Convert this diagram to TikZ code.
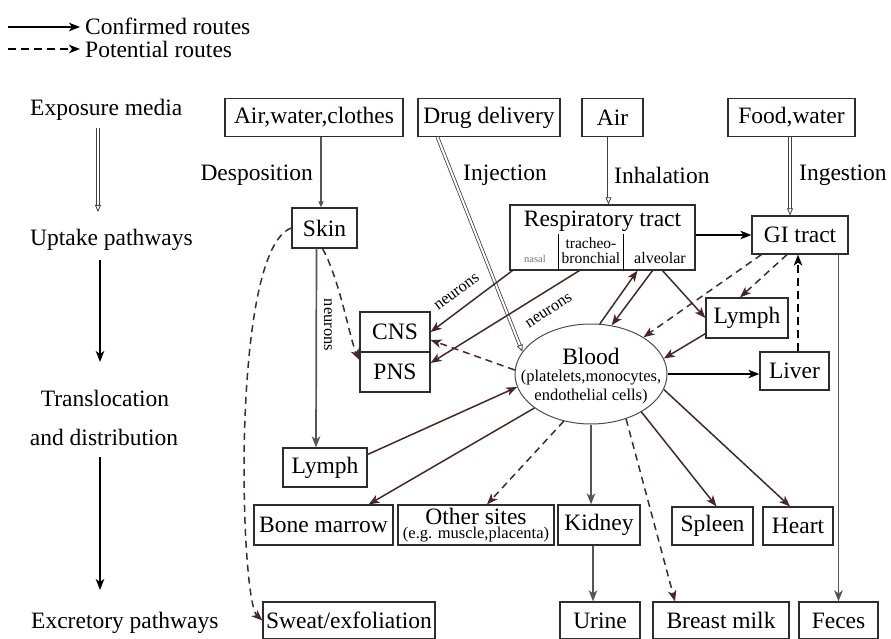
\documentclass[tikz,border=0pt]{standalone}
\usepackage{fontspec}
\setmainfont{Liberation Serif}
\usetikzlibrary{arrows.meta,calc,shapes.geometric}
\definecolor{mar}{RGB}{72,38,44}
\definecolor{lgray}{RGB}{85,85,85}
\definecolor{bord}{RGB}{45,45,45}
\begin{document}
\begin{tikzpicture}[x=1pt,y=-1pt,
  every node/.style={font=\fontsize{23.5}{26}\selectfont, inner sep=0pt},
  box/.style={draw=bord, line width=1.2pt, rectangle},
  smalltxt/.style={font=\fontsize{16.5}{18}\selectfont},
  arrtip/.style={-{Stealth[length=11pt,width=8.5pt,inset=3pt]}},
  conf/.style={draw=mar, line width=1.5pt, arrtip},
  confk/.style={draw=black, line width=1.6pt, arrtip},
  pot/.style={draw=mar, line width=1.5pt, dash pattern=on 7pt off 5pt, arrtip},
  potk/.style={draw=black, line width=1.8pt, dash pattern=on 8pt off 5pt, arrtip},
  grayarr/.style={draw=lgray, line width=1.7pt, arrtip},
  hollowarr/.style={draw=black!75, double=white, double distance=2pt, line width=0.8pt, -{Triangle[open,length=7pt,width=6pt]}},
]
\useasboundingbox (0,0) rectangle (891,639);

% legend
\coordinate (lg1a) at (8,27);
\coordinate (lg1b) at (80,27);
\coordinate (lg2a) at (8,49);
\coordinate (lg2b) at (80,49);
\draw[confk] (lg1a) -- (lg1b);
\draw[potk] (lg2a) -- (lg2b);
\node[anchor=west] (legC) at (85,26) {Confirmed routes};
\node[anchor=west] (legP) at (85,49) {Potential routes};

% left column
\node[anchor=west] (cExp) at (30,110) {Exposure media};
\node[anchor=west] (cUpt) at (30,240) {Uptake pathways};
\node (cTr1) at (105,398) {Translocation};
\node (cTr2) at (104,437) {and distribution};
\node[anchor=west] (cExc) at (31,623) {Excretory pathways};
\coordinate (la1) at (98,128);
\coordinate (la2) at (98,212);
\coordinate (lb1) at (100,260);
\coordinate (lb2) at (100,362);
\coordinate (lc1) at (100,457);
\coordinate (lc2) at (100,590);
\draw[hollowarr] (la1) -- (la2);
\draw[confk] (lb1) -- (lb2);
\draw[confk] (lc1) -- (lc2);

% exposure boxes
\node[box, minimum width=178pt, minimum height=38pt] (awc) at (314,117.5) {Air,water,clothes};
\node[box, minimum width=142pt, minimum height=38pt] (drug) at (489,117.5) {Drug delivery};
\node[box, minimum width=61pt, minimum height=38pt] (air) at (612.5,117.5) {Air};
\node[box, minimum width=127pt, minimum height=38pt] (food) at (791.5,117.5) {Food,water};

% route labels
\node[anchor=east] (lDep) at (313,175) {Desposition};
\node (lInj) at (505,175) {Injection};
\node[anchor=west] (lInh) at (614,175) {Inhalation};
\node[anchor=west] (lIng) at (799,175) {Ingestion};

% uptake
\node[box, minimum width=65pt, minimum height=40pt] (skin) at (324.5,228) {Skin};
\node[box, minimum width=185pt, minimum height=65pt] (resp) at (602.5,237.5) {};
\node (respT) at (602.5,221) {Respiratory tract};
\draw[draw=black, line width=1.8pt] ($(resp.south west)+(49,0)$) -- ++(0,-37);
\draw[draw=black, line width=1.8pt] ($(resp.south west)+(114,0)$) -- ++(0,-37);
\node[font=\fontsize{15.5}{17}\selectfont] (tr1) at (591,243) {tracheo-};
\node[font=\fontsize{15.5}{17}\selectfont] (tr2) at (591,258) {bronchial};
\node[font=\fontsize{16}{18}\selectfont] (alv) at (660,258) {alveolar};
\node[font=\fontsize{10.5}{12}\selectfont, text=black!55] (nas) at (535,259) {nasal};
\node[box, minimum width=96pt, minimum height=38pt] (gi) at (800,235) {GI tract};

% distribution
\node[box, minimum width=70pt, minimum height=40pt] (cns) at (395,332) {CNS};
\node[box, minimum width=70pt, minimum height=40pt] (pns) at (395,372) {PNS};
\node[draw=bord!85, line width=1pt, ellipse, minimum width=152pt, minimum height=100pt] (blood) at (591,374) {};
\node (bloodT) at (591,356) {Blood};
\node[smalltxt] (bloodA) at (591,378) {(platelets,monocytes,};
\node[smalltxt] (bloodB) at (591,397) {endothelial cells)};
\node[box, minimum width=82pt, minimum height=40pt] (lymphR) at (747,318) {Lymph};
\node[box, minimum width=69pt, minimum height=38pt] (liver) at (794.5,371) {Liver};
\node[box, minimum width=84pt, minimum height=39pt] (lymphL) at (325,467.5) {Lymph};
\node[box, minimum width=139pt, minimum height=40pt] (bone) at (323.5,525) {Bone marrow};
\node[box, minimum width=156pt, minimum height=40pt] (other) at (476,525) {};
\node (otherA) at (476,516) {Other sites};
\node[smalltxt] (otherB) at (476,535) {(e.g. muscle,placenta)};
\node[box, minimum width=82pt, minimum height=40pt] (kidney) at (599,525) {Kidney};
\node[box, minimum width=81pt, minimum height=38pt] (spleen) at (712.5,526) {Spleen};
\node[box, minimum width=70pt, minimum height=38pt] (heart) at (798,526) {Heart};

% excretion
\node[box, minimum width=172pt, minimum height=37pt] (sweat) at (349,620.5) {Sweat/exfoliation};
\node[box, minimum width=80pt, minimum height=37pt] (urine) at (600,620.5) {Urine};
\node[box, minimum width=136pt, minimum height=37pt] (milk) at (721,620.5) {Breast milk};
\node[box, minimum width=79pt, minimum height=37pt] (feces) at (838.5,620.5) {Feces};

% uptake connectors
\draw[draw=lgray, line width=1.5pt, -{Triangle[open,length=6pt,width=5pt]}] ($(awc.south)+(7,0)$) -- ($(skin.north)+(-3.5,0)$);
\draw[hollowarr] ($(air.south)+(-4,0)$) -- ($(resp.north)+(6,0)$);
\draw[hollowarr] ($(food.south)+(-1.5,0)$) -- ($(gi.north)+(-10,0)$);
\draw[hollowarr] ($(drug.south west)+(20,0)$) -- (blood.162);
\draw[confk] (resp.east |- gi.west) -- (gi.west);

% skin routes
\draw[grayarr] ($(skin.south)+(-8,0)$) -- ($(lymphL.north)+(-9,0)$);
\draw[pot] ($(skin.south)+(-2,0)$) .. controls (340,280) and (350,340) .. ($(pns.west)+(0,-12)$);
\node[rotate=-90, font=\fontsize{16.5}{18}\selectfont] (nSk) at (328,325) {neurons};
\draw[pot] (skin.west) .. controls (230,250) and (240,600) .. (sweat.west);

% respiratory to nervous system
\draw[conf] ($(resp.south west)+(3,0)$) -- (cns.east);
\node[rotate=37, font=\fontsize{16.5}{18}\selectfont] (n1) at (457,292) {neurons};
\draw[conf] ($(resp.south west)+(70,0)$) -- ($(pns.east)+(0,-9)$);
\node[rotate=33, font=\fontsize{16.5}{18}\selectfont] (n2) at (549,311) {neurons};
\draw[pot] (blood.177) -- ($(cns.east)+(0,8)$);

% blood exchanges
\draw[conf] (blood.80) -- ($(resp.south)+(35,0)$);
\draw[conf] ($(resp.south)+(50,0)$) -- (blood.67);
\draw[conf] ($(resp.south)+(60,0)$) -- (lymphR.west);
\draw[pot] ($(gi.south west)+(10,0)$) -- (blood.35);
\draw[pot] ($(gi.south)+(-13,0)$) -- ($(lymphR.north)+(-7,0)$);
\draw[conf] ($(lymphR.south west)+(0,-5)$) -- (blood.12);
\coordinate (lvtop) at ($(liver.north)+(3.5,0)$);
\draw[potk] (lvtop) -- (lvtop |- gi.south);
\draw[confk] (blood.east) -- (blood.east -| liver.west);
\draw[grayarr] (feces.north |- gi.south) -- (feces.north);

\draw[conf] (lymphL.17) -- (blood.190);
\draw[conf] (blood.211) -- ($(bone.north east)+(-25,0)$);
\draw[pot] (blood.240) -- ($(other.north)+(11,0)$);
\draw[grayarr] (blood.south) -- (blood.south |- kidney.north);
\draw[grayarr] ($(kidney.south)+(-6,0)$) -- ($(urine.north)+(-7,0)$);
\draw[pot] (blood.308) -- ($(milk.north)+(-46,0)$);
\draw[conf] (blood.323) -- ($(spleen.north)+(4,0)$);
\draw[conf] (blood.348) -- ($(heart.north)+(-8,0)$);
\end{tikzpicture}
\end{document}
